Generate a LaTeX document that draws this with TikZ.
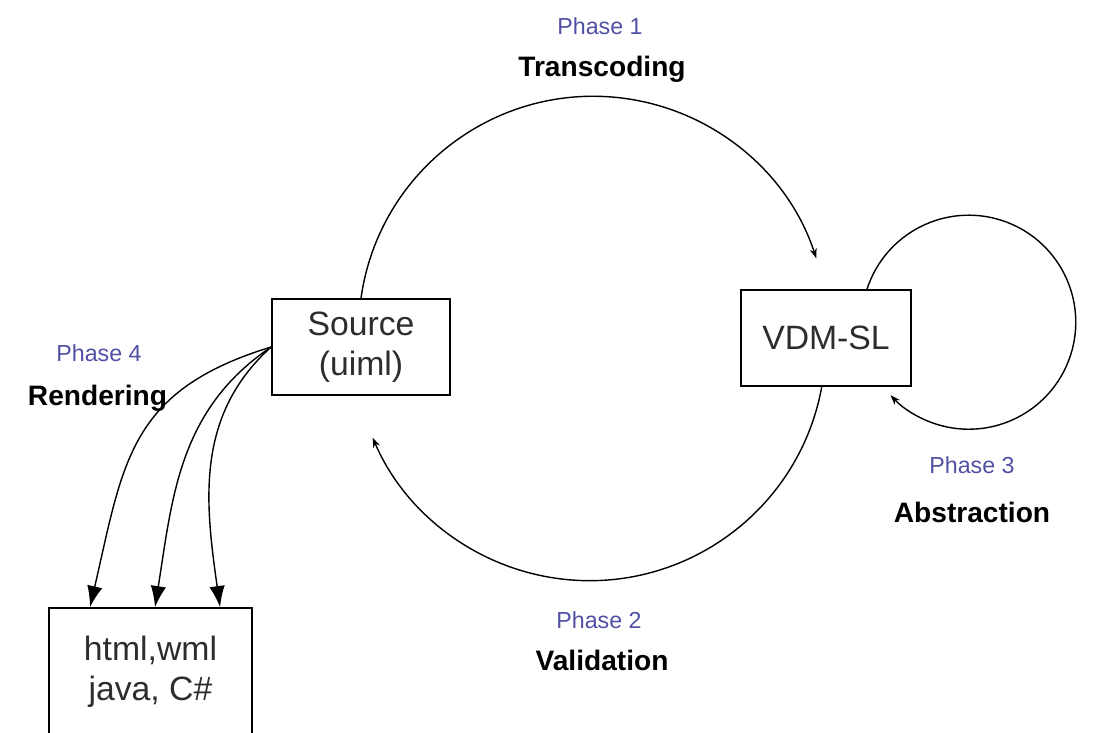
\documentclass[tikz,border=0pt]{standalone}
\usepackage{fontspec}
\setmainfont{Liberation Sans}
\usetikzlibrary{arrows.meta}
\definecolor{phaseblue}{RGB}{80,80,165}
\definecolor{boxtext}{RGB}{45,45,45}

\begin{document}
\begin{tikzpicture}[x=0.025cm,y=0.025cm,line width=1pt] % whole picture, 1 unit = 1 px
\tikzstyle{stage}=[draw,line width=1.2pt,shape=rectangle,inner sep=0pt,align=center,text=boxtext,font=\fontsize{24}{28.5}\selectfont]
\tikzstyle{phase}=[anchor=base,text=phaseblue,inner sep=0pt,font=\fontsize{16.5}{20}\selectfont]
\tikzstyle{task}=[anchor=base,inner sep=0pt,font=\fontsize{20}{24}\selectfont\bfseries]
\tikzstyle{phasearc}=[-{Stealth[length=7pt,width=5pt]}]
\tikzstyle{renderarrow}=[-{Latex[length=15pt,width=11pt]}]

\useasboundingbox (0,0) rectangle (1097,732);

\draw (361,385) node[stage,minimum width=4.45cm,minimum height=2.4cm] (src) {Source\\(uiml)}; % source box
\draw (826,394) node[stage,minimum width=4.25cm,minimum height=2.4cm] (vdm) {VDM-SL}; % VDM-SL box
\draw (150.5,60) node[stage,minimum width=5.075cm,minimum height=3.2cm] (out) {html,wml\\java, C\#}; % output box, runs off the page

% phase labels
\draw (600,697) node[phase] (p1) {Phase 1};
\draw (602,655) node[task] (t1) {Transcoding};
\draw (599,104) node[phase] (p2) {Phase 2};
\draw (602,62) node[task] (t2) {Validation};
\draw (972,259) node[phase] (p3) {Phase 3};
\draw (972,210) node[task] (t3) {Abstraction};
\draw (99,371) node[phase] (p4) {Phase 4};
\draw (97.5,327) node[task] (t4) {Rendering};

\draw[phasearc] (src.north) arc[start angle=172,end angle=18,radius=234.5]; % phase 1
\draw[phasearc] (vdm.-95) arc[start angle=-10.3,end angle=-156.8,radius=236]; % phase 2
\draw[phasearc] (vdm.50) arc[start angle=162,end angle=-137,radius=107]; % phase 3 loop

% phase 4, three outputs
\draw[renderarrow] (src.west) to[out=197,in=77,looseness=1.2] (out.133);
\draw[renderarrow] (src.west) to[out=214,in=81] (out.86);
\draw[renderarrow] (src.west) to[out=222,in=98] (out.43);
\end{tikzpicture}
\end{document}
